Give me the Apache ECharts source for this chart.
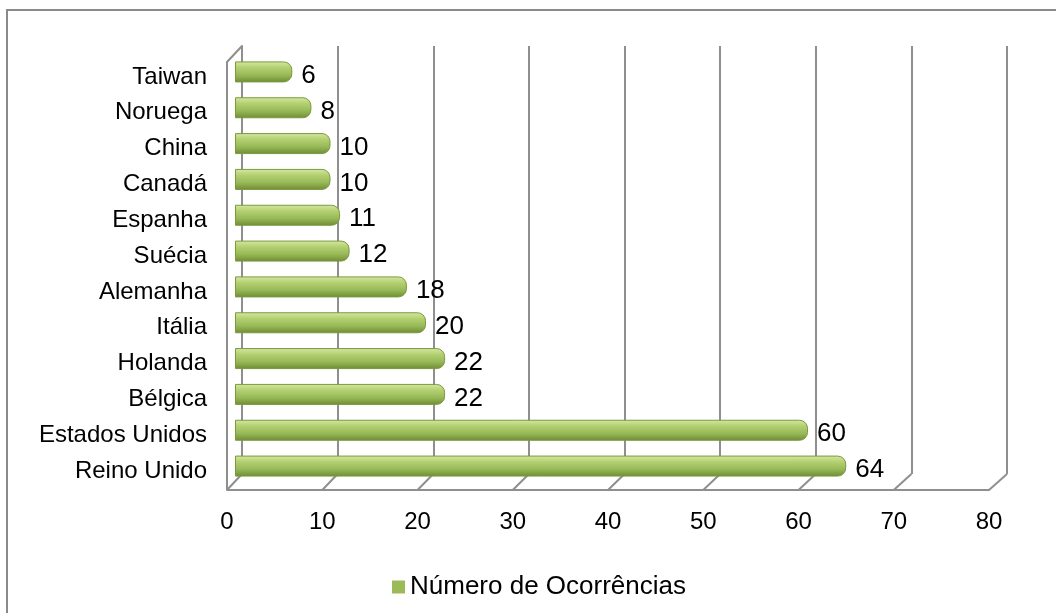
<!DOCTYPE html>
<html>
<head>
<meta charset="utf-8">
<script src="https://cdn.jsdelivr.net/npm/echarts@6/dist/echarts.min.js"></script>
<style>
  html, body { margin: 0; padding: 0; background: #fff; }
  #chart { width: 1056px; height: 613px; }
</style>
</head>
<body>
<div id="chart"></div>
<script>
// Countries, top to bottom
const countries = ['Taiwan', 'Noruega', 'China', 'Canadá', 'Espanha', 'Suécia',
  'Alemanha', 'Itália', 'Holanda', 'Bélgica', 'Estados Unidos', 'Reino Unido'];
// Occurrences per country
const occurrences = [6, 8, 10, 10, 11, 12, 18, 20, 22, 22, 60, 64];
// Value axis ticks
const valueTicks = [0, 10, 20, 30, 40, 50, 60, 70, 80];
const seriesName = 'Número de Ocorrências';

const FONT = '"Liberation Sans", Arial, sans-serif';
const WALL = '#8f8f8f';
const DEPTH_X = 15, DEPTH_Y = 16;   // offset between back wall and front edge
const BACK_TOP = 46;

const chart = echarts.init(document.getElementById('chart'));

const cylinder = new echarts.graphic.LinearGradient(0, 0, 0, 1, [
  { offset: 0, color: '#d6e8a6' },
  { offset: 0.3, color: '#b3d070' },
  { offset: 0.65, color: '#98b957' },
  { offset: 1, color: '#6e8c35' }
]);

chart.setOption({
  animation: false,
  backgroundColor: '#ffffff',
  graphic: [{
    type: 'polyline',
    shape: { points: [[7, 613], [7, 10], [1056, 10]] },
    style: { stroke: '#8a8a8a', lineWidth: 2, fill: null },
    silent: true
  }],
  legend: {
    data: [seriesName],
    left: 387, top: 569,
    icon: 'rect', itemWidth: 13, itemHeight: 13, itemGap: 6,
    itemStyle: { color: '#9BBB59', borderWidth: 0 },
    textStyle: { fontFamily: FONT, fontSize: 26, color: '#000' }
  },
  grid: [
    // back wall
    { left: 242, right: 49, top: BACK_TOP, bottom: 139 },
    // bars
    { left: 235, right: 57, top: 54, bottom: 129 },
    // front floor edge with tick labels
    { left: 227, right: 67, top: 489, height: 1 }
  ],
  xAxis: [
    { gridIndex: 0, type: 'value', min: 0, max: 80, interval: 10,
      axisLine: { show: false }, axisTick: { show: false }, axisLabel: { show: false },
      splitLine: { show: true, lineStyle: { color: WALL, width: 2 } } },
    { gridIndex: 1, type: 'value', min: 0, max: 80, interval: 10, show: false },
    { gridIndex: 2, type: 'value', min: 0, max: 80, interval: 10,
      axisLine: { show: true, lineStyle: { color: WALL, width: 2 } },
      axisTick: { show: false }, splitLine: { show: false },
      axisLabel: { margin: 20, fontFamily: FONT, fontSize: 24, color: '#000',
        formatter: v => valueTicks.includes(v) ? String(v) : '' } }
  ],
  yAxis: [
    { gridIndex: 0, type: 'category', data: countries, inverse: true,
      axisLine: { show: true, lineStyle: { color: WALL, width: 2 } },
      axisTick: { show: false }, axisLabel: { show: false }, splitLine: { show: false } },
    { gridIndex: 1, type: 'category', data: countries, inverse: true,
      axisLine: { show: false }, axisTick: { show: false },
      axisLabel: { margin: 28, fontFamily: FONT, fontSize: 24, color: '#000',
        verticalAlign: 'top', lineHeight: 10 } },
    { gridIndex: 2, type: 'value', show: false, min: 0, max: 1 }
  ],
  series: [
    {
      // floor diagonals and the left side wall
      type: 'custom',
      xAxisIndex: 2, yAxisIndex: 2,
      silent: true,
      data: valueTicks,
      renderItem: function (params, api) {
        const v = api.value(0);
        const cs = params.coordSys;
        const x = api.coord([v, 0])[0];
        const y = cs.y + cs.height;
        const shift = DEPTH_X + 3 * v / 80;
        const children = [{
          type: 'line',
          shape: { x1: x, y1: y, x2: x + shift, y2: y - DEPTH_Y },
          style: { stroke: WALL, lineWidth: 2 }
        }];
        if (v === 0) {
          children.push({
            type: 'polyline',
            shape: { points: [[x, y], [x, BACK_TOP + DEPTH_Y], [x + shift, BACK_TOP]] },
            style: { stroke: WALL, lineWidth: 2, fill: null }
          });
        }
        return { type: 'group', children: children };
      },
      encode: { x: 0 },
      z: 1
    },
    {
      name: seriesName,
      type: 'bar',
      xAxisIndex: 1, yAxisIndex: 1,
      data: occurrences,
      barWidth: 21,
      itemStyle: {
        color: cylinder,
        borderColor: '#7a9a3c',
        borderWidth: 1,
        borderRadius: [0, 8, 8, 0]
      },
      label: {
        show: true, position: 'right', distance: 9, offset: [0, 4],
        fontFamily: FONT, fontSize: 26, color: '#000'
      },
      z: 3
    }
  ]
});
</script>
</body>
</html>
